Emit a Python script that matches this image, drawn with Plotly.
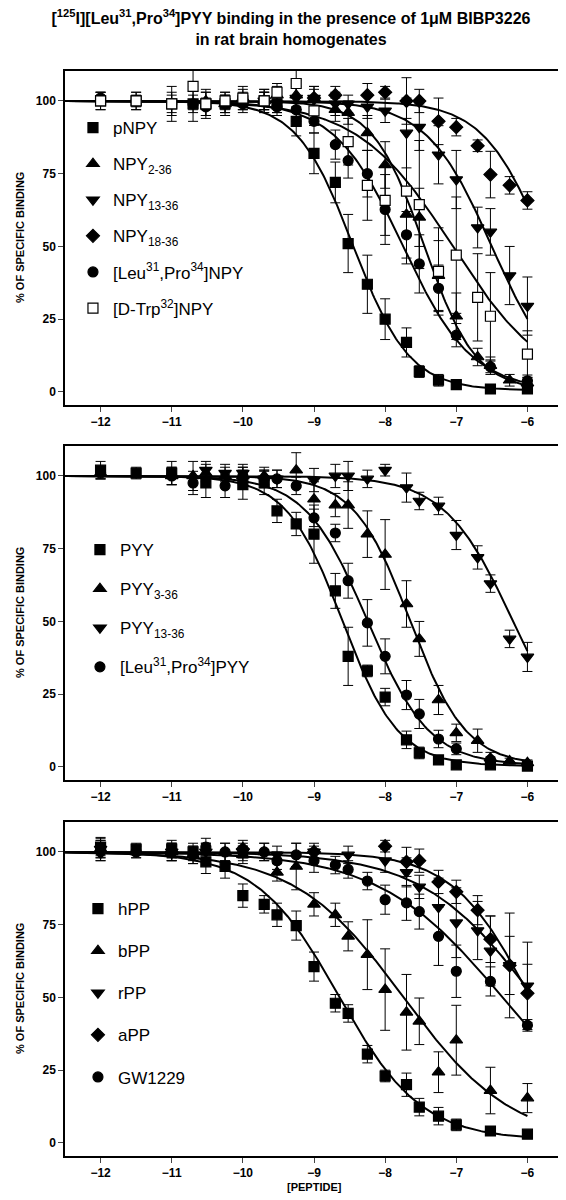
import numpy as np
import plotly.graph_objects as go

# ---------------- Panel 1 (NPY analogues) ----------------
pNPY_x = [-12, -11.5, -11, -10.7, -10.52, -10.25, -10, -9.7, -9.52, -9.25, -9, -8.7, -8.52, -8.25, -8, -7.7, -7.52, -7.25, -7, -6.52, -6]
pNPY_y = [100, 100, 99, 99, 99, 99, 100, 100, 99, 93, 82, 72, 51, 37, 25, 17, 7, 4, 2.5, 1, 1]
pNPY_e = [3, 3, 6, 6, 5, 4, 3, 4, 3, 5, 7, 7, 10, 10, 7, 5, 2, 2, 1.5, 1, 1]

NPY2_x = [-10.52, -10.25, -10, -9.7, -9.52, -9.25, -9, -8.7, -8.52, -8.25, -8, -7.7, -7.52, -7.25, -7, -6.7, -6.52, -6.25, -6]
NPY2_y = [100, 99, 101, 100, 102, 102, 101, 97, 96, 89, 78, 61, 60, 40, 26, 12, 9, 4, 3]
NPY2_e = [3, 3, 4, 3, 3, 5, 4, 4, 4, 6, 8, 7, 10, 12, 8, 3, 3, 2, 2]

NPY13_x = [-9.7, -9.52, -9.25, -9, -8.7, -8.52, -8.25, -8, -7.7, -7.52, -7.25, -7, -6.7, -6.52, -6.25, -6]
NPY13_y = [100, 99, 101, 101, 99, 99, 98, 96.6, 89, 91, 81.5, 73, 56.5, 55, 40, 29.5]
NPY13_e = [3, 3, 4, 4, 4, 3, 4, 4, 12, 8, 10, 10, 7, 8, 10, 10]

NPY18_x = [-9, -8.7, -8.25, -8, -7.7, -7.52, -7.25, -7, -6.7, -6.52, -6.25, -6]
NPY18_y = [101, 102, 102, 103, 100, 100, 93, 91, 84.6, 74.7, 71, 65.8]
NPY18_e = [3, 3, 4, 2, 8, 4, 8, 3, 2, 8, 3, 3]

LPNPY_x = [-12, -11.5, -11, -10.7, -10.52, -10.25, -10, -9.7, -9.52, -9.25, -9, -8.7, -8.52, -8.25, -8, -7.7, -7.52, -7.25, -7, -6.52, -6]
LPNPY_y = [101, 100, 99, 99, 98, 99, 99, 100, 98, 97, 93, 85, 79.5, 75, 62.7, 54, 44, 35.6, 19.5, 8.6, 3.8]
LPNPY_e = [2, 2, 3, 3, 3, 3, 3, 3, 3, 4, 4, 5, 6, 8, 12, 8, 10, 8, 4, 2, 2]

DTrp_x = [-12, -11.5, -11, -10.7, -10.52, -10.25, -10, -9.7, -9.52, -9.25, -9, -8.52, -8.25, -8, -7.7, -7.52, -7.25, -7, -6.7, -6.52, -6]
DTrp_y = [100, 100, 99, 105, 99, 100, 101, 100, 103, 106, 96.6, 86, 71, 65.8, 69, 64.4, 41.4, 47, 32.5, 26, 13]
DTrp_e = [3, 3, 4, 8, 4, 3, 3, 4, 3, 10, 5, 8, 12, 12, 25, 22, 15, 20, 15, 15, 8]

# ---------------- Panel 2 (PYY analogues) ----------------
PYY_x = [-12, -11.5, -11, -10.52, -10, -9.7, -9.52, -9.25, -9, -8.7, -8.52, -8.25, -8, -7.7, -7.52, -7.25, -7, -6.52, -6]
PYY_y = [102, 101, 101, 97.6, 97, 97.6, 88, 83.5, 80, 60.5, 38, 33, 24, 9.3, 4.8, 2.4, 0.7, 0.7, 0.3]
PYY_e = [3, 2, 4, 5, 5, 4, 4, 4, 10, 6, 10, 2, 3, 3, 2, 1, 1, 1, 1]

PYY3_x = [-12, -11, -10.7, -10.52, -10.25, -10, -9.7, -9.25, -9, -8.7, -8.52, -8.25, -8, -7.7, -7.52, -7.25, -7, -6.7, -6.52, -6.25, -6]
PYY3_y = [101, 100, 100, 101, 100, 100, 100, 102, 92, 90, 90, 80, 73, 56, 44, 23, 11.7, 9, 3, 2, 1.4]
PYY3_e = [2, 3, 5, 3, 3, 3, 3, 6, 6, 4, 8, 8, 12, 8, 6, 5, 3, 4, 2, 1, 1]

PYY13_x = [-10.52, -10.25, -10, -9.7, -9.52, -9, -8.7, -8.52, -8.25, -8, -7.7, -7.52, -7.25, -7, -6.7, -6.52, -6.25, -6]
PYY13_y = [102, 101, 101, 99, 99, 98.6, 100, 100, 99, 102, 96, 91.4, 89.7, 79.7, 72, 63, 44, 37.8]
PYY13_e = [3, 3, 3, 3, 3, 4, 4, 5, 3, 2, 5, 3, 3, 5, 4, 3, 3, 5]

LPPYY_x = [-12, -11, -10.7, -10.25, -10, -9.7, -9.52, -9.25, -9, -8.7, -8.52, -8.25, -8, -7.7, -7.52, -7.25, -7, -6.52, -6]
LPPYY_y = [101, 100, 97.6, 96.6, 100, 99, 99, 96.6, 85.6, 80.4, 64, 49.5, 38, 24.7, 18.2, 9.6, 6.2, 2.4, 0.7]
LPPYY_e = [2, 3, 4, 4, 3, 3, 3, 3, 3, 3, 6, 8, 6, 5, 5, 3, 2, 1, 1]

# ---------------- Panel 3 (PP analogues) ----------------
hPP_x = [-12, -11.5, -11, -10.7, -10.52, -10.25, -10, -9.7, -9.52, -9.25, -9, -8.7, -8.52, -8.25, -8, -7.7, -7.52, -7.25, -7, -6.52, -6]
hPP_y = [101.7, 101, 101, 100, 96.6, 95, 85, 82, 78.4, 74.7, 60.6, 48, 44.5, 30.5, 23, 20, 12.3, 9.2, 6.2, 4.1, 3]
hPP_e = [3, 2, 3, 3, 4, 4, 4, 3, 4, 5, 5, 3, 3, 3, 2, 4, 3, 3, 2, 1, 1]

bPP_x = [-12, -11.5, -11, -10.7, -10.52, -10.25, -10, -9.7, -9.52, -9.25, -9, -8.7, -8.52, -8.25, -8, -7.7, -7.52, -7.25, -7, -6.52, -6]
bPP_y = [101, 100, 100, 99, 100, 100, 99, 100, 93, 95, 82, 78.4, 71, 64.7, 52.7, 44.9, 41.8, 24.3, 35.3, 18, 15.4]
bPP_e = [3, 2, 3, 3, 3, 3, 3, 3, 3, 8, 4, 4, 5, 12, 14, 13, 8, 7, 12, 8, 5]

rPP_x = [-12, -11, -10.52, -10, -9.52, -9, -8.52, -8, -7.7, -7.52, -7.25, -7, -6.7, -6.52, -6.25, -6]
rPP_y = [101, 100, 100, 100, 99, 100, 99, 97, 93, 88, 81, 75.7, 73, 66, 61, 54]
rPP_e = [3, 3, 3, 3, 3, 3, 3, 4, 5, 4, 10, 12, 10, 12, 18, 15]

aPP_x = [-12, -11, -10, -9, -8, -7.7, -7.52, -7.25, -7, -6.7, -6.52, -6.25, -6]
aPP_y = [100, 100, 101, 100, 102, 96.6, 97, 89.7, 86.3, 80, 70, 61, 51.4]
aPP_e = [3, 3, 3, 2, 2, 5, 4, 4, 4, 5, 8, 10, 10]

GW_x = [-12, -11.5, -11, -10.7, -10.52, -10.25, -10, -9.7, -9.52, -9.25, -9, -8.7, -8.52, -8.25, -8, -7.7, -7.52, -7.25, -7, -6.52, -6]
GW_y = [101, 100, 100, 99, 101.7, 100, 100, 100, 97, 99, 97, 95.5, 94, 90, 83.6, 82.5, 79.5, 71, 59, 55.5, 40.4]
GW_e = [4, 2, 2, 3, 3, 3, 2, 3, 3, 4, 4, 3, 3, 3, 5, 6, 6, 10, 9, 5, 2]

# fitted one-site parameters: logIC50, Hill slope, bottom
FIT_LOGIC50 = {"pNPY": -8.45, "NPY2": -7.45, "NPY13": -6.5, "NPY18": -5.75, "LPNPY": -7.75, "DTrp": -7.05,
               "PYY": -8.6, "PYY3": -7.65, "PYY13": -6.2, "LPPYY": -8.25,
               "hPP": -8.65, "bPP": -7.74, "rPP": -5.9, "aPP": -5.96, "GW": -6.35}
FIT_SLOPE = {"pNPY": 1.1, "NPY2": 1.2, "NPY13": 0.95, "NPY18": 1.0, "LPNPY": 0.9, "DTrp": 0.65,
             "PYY": 1.1, "PYY3": 1.1, "PYY13": 0.9, "LPPYY": 1.0,
             "hPP": 0.75, "bPP": 0.57, "rPP": 0.55, "aPP": 0.8, "GW": 0.5}
FIT_BOTTOM = {"pNPY": 0.5, "NPY2": 0.5, "NPY13": 0, "NPY18": 0, "LPNPY": 0.5, "DTrp": 0,
              "PYY": 0.3, "PYY3": 0.5, "PYY13": 0, "LPPYY": 0.5,
              "hPP": 1, "bPP": 0, "rPP": 0, "aPP": 0, "GW": 0}

TITLE = ("<b>[<sup>125</sup>I][Leu<sup>31</sup>,Pro<sup>34</sup>]PYY binding in the presence of 1\u03bcM BIBP3226"
         "<br>in rat brain homogenates</b>")
X_TICKS = [-12, -11, -10, -9, -8, -7, -6]
Y_TICKS = [0, 25, 50, 75, 100]

FONT = "Liberation Sans, Arial, sans-serif"

# series: key, legend label, x, y, err, symbol, open, panel
SERIES = [
    ("pNPY", "pNPY", pNPY_x, pNPY_y, pNPY_e, "square", False, 1),
    ("NPY2", "NPY<sub>2-36</sub>", NPY2_x, NPY2_y, NPY2_e, "triangle-up", False, 1),
    ("NPY13", "NPY<sub>13-36</sub>", NPY13_x, NPY13_y, NPY13_e, "triangle-down", False, 1),
    ("NPY18", "NPY<sub>18-36</sub>", NPY18_x, NPY18_y, NPY18_e, "diamond", False, 1),
    ("LPNPY", "[Leu<sup>31</sup>,Pro<sup>34</sup>]NPY", LPNPY_x, LPNPY_y, LPNPY_e, "circle", False, 1),
    ("DTrp", "[D-Trp<sup>32</sup>]NPY", DTrp_x, DTrp_y, DTrp_e, "square", True, 1),
    ("PYY", "PYY", PYY_x, PYY_y, PYY_e, "square", False, 2),
    ("PYY3", "PYY<sub>3-36</sub>", PYY3_x, PYY3_y, PYY3_e, "triangle-up", False, 2),
    ("PYY13", "PYY<sub>13-36</sub>", PYY13_x, PYY13_y, PYY13_e, "triangle-down", False, 2),
    ("LPPYY", "[Leu<sup>31</sup>,Pro<sup>34</sup>]PYY", LPPYY_x, LPPYY_y, LPPYY_e, "circle", False, 2),
    ("hPP", "hPP", hPP_x, hPP_y, hPP_e, "square", False, 3),
    ("bPP", "bPP", bPP_x, bPP_y, bPP_e, "triangle-up", False, 3),
    ("rPP", "rPP", rPP_x, rPP_y, rPP_e, "triangle-down", False, 3),
    ("aPP", "aPP", aPP_x, aPP_y, aPP_e, "diamond", False, 3),
    ("GW", "GW1229", GW_x, GW_y, GW_e, "circle", False, 3),
]

SIZES = {"square": 10, "triangle-up": 11, "triangle-down": 11, "diamond": 10, "circle": 10}

fig = go.Figure()
xc = np.linspace(-12.5, -6, 300)

# curves first
for key, label, xs, ys, es, sym, op, p in SERIES:
    sfx = "" if p == 1 else str(p)
    b = FIT_BOTTOM[key]
    yc = b + (100 - b) / (1 + 10 ** (FIT_SLOPE[key] * (xc - FIT_LOGIC50[key])))
    fig.add_trace(go.Scatter(x=xc, y=yc, mode="lines", line=dict(color="black", width=2),
                             showlegend=False, hoverinfo="skip", xaxis="x" + sfx, yaxis="y" + sfx))

for key, label, xs, ys, es, sym, op, p in SERIES:
    sfx = "" if p == 1 else str(p)
    fig.add_trace(go.Scatter(
        x=xs, y=ys, mode="markers", name=label, legendgroup=key,
        legend="legend" + sfx, xaxis="x" + sfx, yaxis="y" + sfx,
        marker=dict(symbol=sym, size=SIZES[sym], color="white" if op else "black",
                    line=dict(color="black", width=1.2)),
        error_y=dict(type="data", array=es, color="black", thickness=1, width=5),
    ))

# layout geometry
H = 1200
T, B = 63, 52
PH = H - T - B
def dom(top_px, bot_px):
    return [(H - B - bot_px) / PH, (H - B - top_px) / PH]

doms = {1: dom(63, 397), 2: dom(438, 772), 3: dom(814, 1148)}

axfont = dict(family=FONT, size=12, color="black", weight="bold")
layout = dict(
    width=566, height=1200,
    margin=dict(l=57, r=9, t=T, b=B),
    paper_bgcolor="white", plot_bgcolor="white",
    font=dict(family=FONT, color="black"),
    title=dict(text=TITLE, x=0.5, xref="container", xanchor="center", y=1 - 16 / H, yanchor="middle",
               font=dict(family=FONT, size=16, color="black")),
)
for p in (1, 2, 3):
    sfx = "" if p == 1 else str(p)
    layout["xaxis" + sfx] = dict(domain=[0, 1], range=[-12.5, -5.5], anchor="y" + sfx,
                                 tickvals=X_TICKS, ticks="outside", ticklen=5, tickwidth=1.2,
                                 showline=True, linecolor="black", linewidth=1.5, mirror=True,
                                 showgrid=False, zeroline=False, tickfont=axfont)
    layout["yaxis" + sfx] = dict(domain=doms[p], range=[-4.5, 110.3], anchor="x" + sfx,
                                 tickvals=Y_TICKS, ticks="outside", ticklen=5, tickwidth=1.2,
                                 showline=True, linecolor="black", linewidth=1.5, mirror=True,
                                 showgrid=False, zeroline=False, tickfont=axfont)

leg_common = dict(bgcolor="rgba(0,0,0,0)", font=dict(family=FONT, size=17, color="black"),
                  itemwidth=30, xanchor="left", yanchor="top", traceorder="grouped",
                  itemclick=False, itemdoubleclick=False)
layout["legend"] = dict(x=(65 - 57) / 500, y=(H - B - 102) / PH, tracegroupgap=11, **leg_common)
layout["legend2"] = dict(x=(72 - 57) / 500, y=(H - B - 524) / PH, tracegroupgap=14, **leg_common)
layout["legend3"] = dict(x=(70 - 57) / 500, y=(H - B - 883) / PH, tracegroupgap=17, **leg_common)

annotations = []
for p in (1, 2, 3):
    sfx = "" if p == 1 else str(p)
    annotations.append(dict(text="<b>% OF SPECIFIC BINDING</b>", textangle=-90, xref="paper", x=0,
                            xanchor="center", xshift=-45, yref="y" + sfx + " domain", y=0.5,
                            yanchor="middle", showarrow=False,
                            font=dict(family=FONT, size=11, color="black")))
annotations.append(dict(text="<b>[PEPTIDE]</b>", xref="paper", x=0.5, yref="paper", y=0,
                        yanchor="middle", yshift=-31, showarrow=False,
                        font=dict(family=FONT, size=11, color="black")))
layout["annotations"] = annotations

fig.update_layout(**layout)
fig.write_html("out.html")
